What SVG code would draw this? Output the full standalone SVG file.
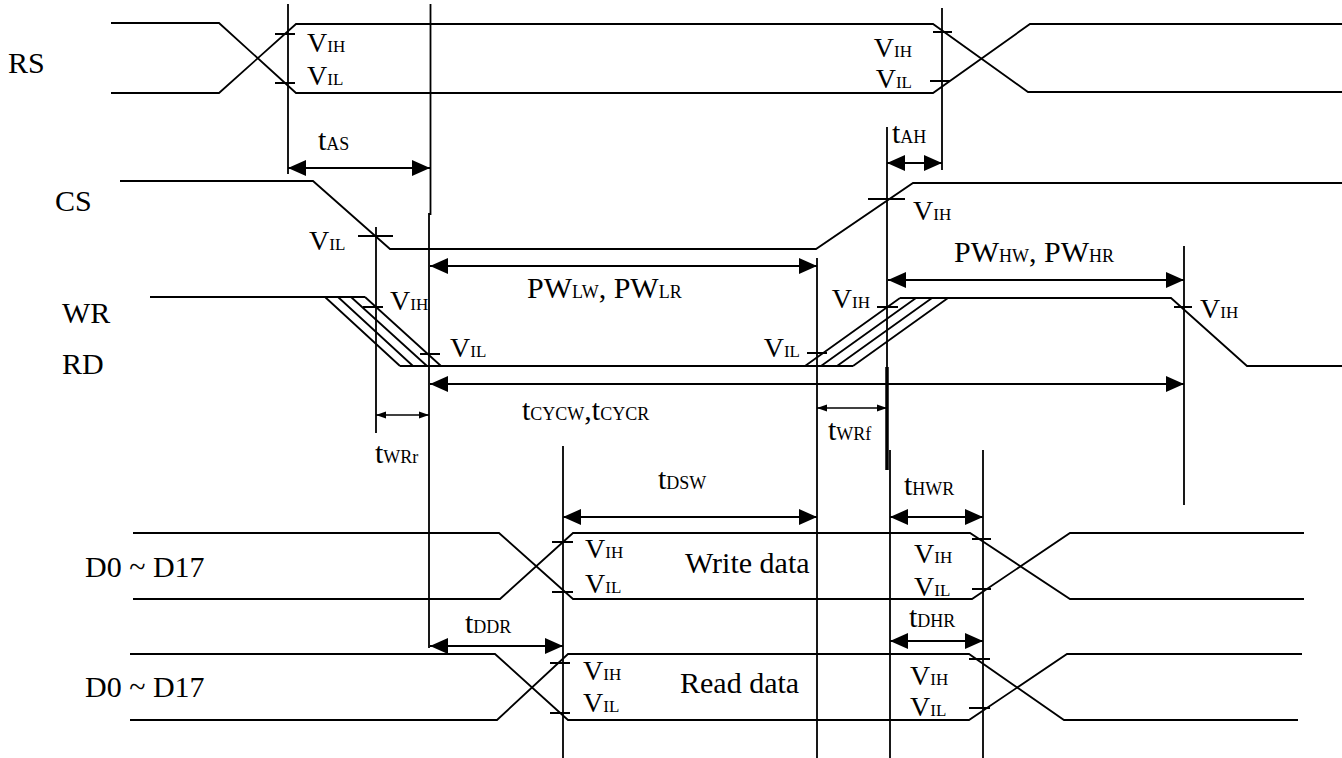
<svg xmlns="http://www.w3.org/2000/svg" width="1342" height="758" viewBox="0 0 1342 758">
<style>
text{font-family:"Liberation Serif","Times New Roman",serif;fill:#000;font-size:28px}
.lbl{font-size:30px}
.tl{font-size:30px}
.s{font-size:17px}
.s2{font-size:18px}
.sig,.ln{fill:none;stroke:#000;stroke-width:1.8}
.arr{fill:none;stroke:#000;stroke-width:1.8;marker-start:url(#ah);marker-end:url(#ah)}
.arrs{fill:none;stroke:#000;stroke-width:1.6;marker-start:url(#as);marker-end:url(#as)}
</style>
<defs>
<marker id="ah" markerUnits="userSpaceOnUse" markerWidth="19" markerHeight="16" refX="18" refY="8" orient="auto-start-reverse"><path d="M0,0 L18,8 L0,16 z" fill="#000"/></marker>
<marker id="as" markerUnits="userSpaceOnUse" markerWidth="11" markerHeight="8" refX="10" refY="4" orient="auto-start-reverse"><path d="M0,0.5 L10,4 L0,7.5 z" fill="#000"/></marker>
</defs>
<rect width="1342" height="758" fill="#fff"/>

<g id="sig-rs">
<text class="lbl" x="8" y="73">RS</text>
<path class="sig" d="M111,23 H219 L296,93 H933 L1030,24 H1342"/>
<path class="sig" d="M111,93 H219 L296,24 H933 L1028,92 H1342"/>
<path class="ln" d="M275,34 H295 M275,83 H295 M933,32 H952 M930,81 H950"/>
<text x="307" y="52">V<tspan class="s">IH</tspan></text>
<text x="307" y="85">V<tspan class="s">IL</tspan></text>
<text x="912" y="57" text-anchor="end">V<tspan class="s">IH</tspan></text>
<text x="912" y="88" text-anchor="end">V<tspan class="s">IL</tspan></text>
</g>

<g id="sig-cs">
<text class="lbl" x="55" y="211">CS</text>
<path class="sig" d="M120,181 H313 L390,249 H816 L913,183 H1342"/>
<path class="ln" d="M358,236 H393 M868,199 H905"/>
<text x="309" y="250">V<tspan class="s">IL</tspan></text>
<text x="913" y="220">V<tspan class="s">IH</tspan></text>
</g>

<g id="sig-wrrd">
<text class="lbl" x="62" y="323">WR</text>
<text class="lbl" x="62" y="374">RD</text>
<path class="sig" d="M150,297 H365 M400,366 H853 M900,298 H1171 L1247,366 H1342"/>
<path class="sig" d="M325,297 L400,366 M338,297 L413,366 M351,297 L427,366 M365,297 L441,366"/>
<path class="sig" d="M805,366 L900,298 M821,366 L916,298 M837,366 L932,298 M853,366 L948,298"/>
<path class="ln" d="M363,307 H383 M420,354 H440 M877,307 H898 M807,353 H827 M1174,307 H1192"/>
<text x="390" y="310">V<tspan class="s">IH</tspan></text>
<text x="450" y="357">V<tspan class="s">IL</tspan></text>
<text x="870" y="308" text-anchor="end">V<tspan class="s">IH</tspan></text>
<text x="800" y="357" text-anchor="end">V<tspan class="s">IL</tspan></text>
<text x="1200" y="318">V<tspan class="s">IH</tspan></text>
</g>

<g id="sig-d-write">
<text class="lbl" x="85" y="577">D0 ~ D17</text>
<path class="sig" d="M133,533 H499 L573,599 H972 L1070,533 H1304"/>
<path class="sig" d="M133,599 H500 L573,533 H970 L1070,599 H1304"/>
<path class="ln" d="M552,542 H573 M552,592 H573 M972,539 H991 M972,589 H991"/>
<text x="585" y="558">V<tspan class="s">IH</tspan></text>
<text x="585" y="593">V<tspan class="s">IL</tspan></text>
<text x="914" y="563">V<tspan class="s">IH</tspan></text>
<text x="914" y="596">V<tspan class="s">IL</tspan></text>
<text class="lbl" x="685" y="573">Write data</text>
</g>

<g id="sig-d-read">
<text class="lbl" x="85" y="697">D0 ~ D17</text>
<path class="sig" d="M130,654 H495 L568,720 H969 L1067,654 H1302"/>
<path class="sig" d="M130,720 H497 L568,654 H969 L1064,720 H1298"/>
<path class="ln" d="M550,663 H570 M550,713 H570 M969,659 H990 M969,708 H990"/>
<text x="583" y="680">V<tspan class="s">IH</tspan></text>
<text x="583" y="712">V<tspan class="s">IL</tspan></text>
<text x="910" y="685">V<tspan class="s">IH</tspan></text>
<text x="910" y="716">V<tspan class="s">IL</tspan></text>
<text class="lbl" x="680" y="693">Read data</text>
</g>

<g id="connectors">
<path class="ln" d="M288,4 V174 M430.5,4 V215 M429,213 V648 M376,227 V433 M887,127 V470 M890,450 V758 M942,8 V170 M817,258 V758 M1184,246 V505 M563,446 V758 M983,450 V758"/>
<path d="M887,367 V470" stroke="#000" stroke-width="3.5"/>
<path class="arr" d="M288,168 H430"/>
<path class="arr" d="M887,163 H942"/>
<path class="arr" d="M430,266 H817"/>
<path class="arr" d="M888,280 H1184"/>
<path class="arr" d="M430,384 H1184"/>
<path class="arrs" d="M376,415 H429"/>
<path class="arrs" d="M817,408 H887"/>
<path class="arr" d="M563,517 H817"/>
<path class="arr" d="M890,517 H983"/>
<path class="arr" d="M430,646 H563"/>
<path class="arr" d="M890,641 H983"/>
</g>

<g id="timing-labels">
<text class="tl" x="318" y="150">t<tspan class="s2">AS</tspan></text>
<text class="tl" x="892" y="143">t<tspan class="s2">AH</tspan></text>
<text class="lbl" x="527" y="298">PW<tspan class="s2">LW</tspan>, PW<tspan class="s2">LR</tspan></text>
<text class="lbl" x="954" y="262">PW<tspan class="s2">HW</tspan>, PW<tspan class="s2">HR</tspan></text>
<text class="tl" x="522" y="420">t<tspan class="s2">CYCW</tspan>,t<tspan class="s2">CYCR</tspan></text>
<text class="tl" x="375" y="463">t<tspan class="s2">WRr</tspan></text>
<text class="tl" x="828" y="440">t<tspan class="s2">WRf</tspan></text>
<text class="tl" x="658" y="489">t<tspan class="s2">DSW</tspan></text>
<text class="tl" x="904" y="495">t<tspan class="s2">HWR</tspan></text>
<text class="tl" x="465" y="633">t<tspan class="s2">DDR</tspan></text>
<text class="tl" x="909" y="627">t<tspan class="s2">DHR</tspan></text>
</g>
</svg>
